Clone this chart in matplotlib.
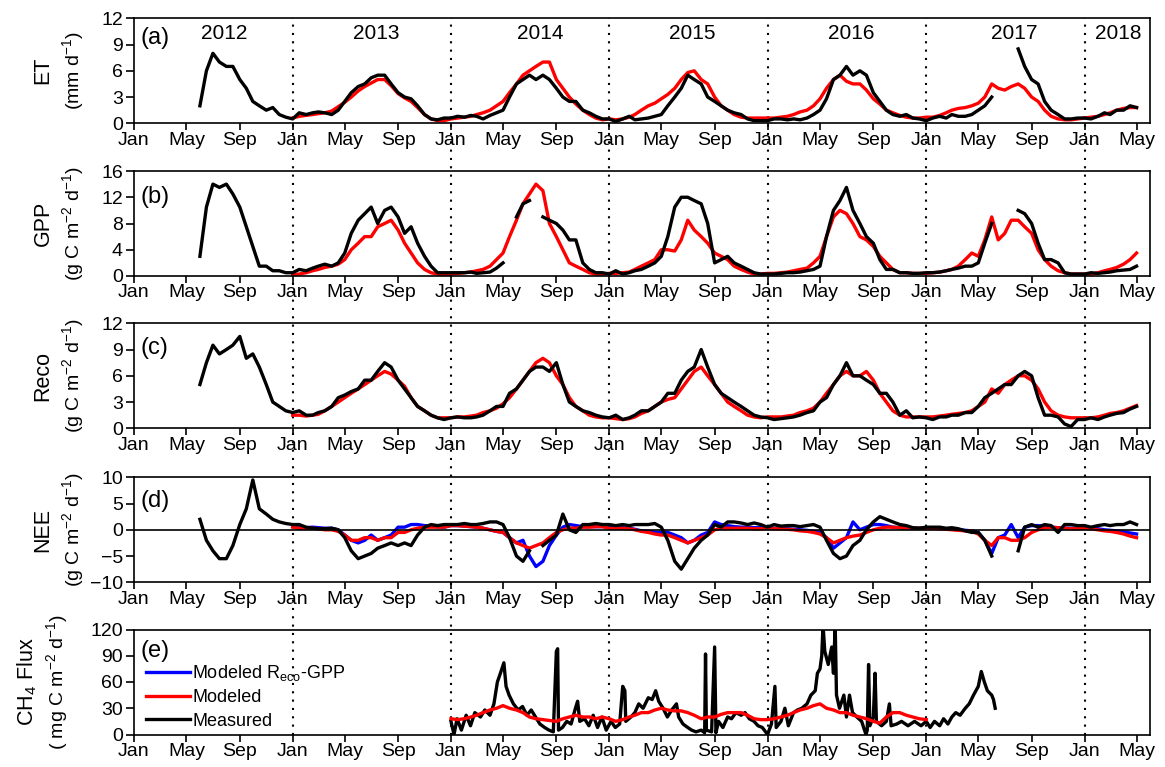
import numpy as np
import pandas as pd
import matplotlib
matplotlib.use("Agg")
import matplotlib.pyplot as plt
import matplotlib.dates as mdates
from matplotlib.lines import Line2D

nan = np.nan

# -----------------------------------------------------------------------------
# Eje de tiempo: valores leídos cada medio mes (día 1 y 16), ene 2012 - may 2018
# -----------------------------------------------------------------------------
grid = [pd.Timestamp(y, m, d) for y in range(2012, 2019) for m in range(1, 13) for d in (1, 16)]
grid = [t for t in grid if t <= pd.Timestamp(2018, 5, 1)]

# Series medidas: empiezan el 1 jun 2012. Series modeladas: empiezan el 1 ene 2013.
# (a) ET, mm d-1
et_meas = [
    2.0, 6.0, 8.0, 7.0, 6.5, 6.5, 5.0, 4.0, 2.5, 2.0, 1.5, 1.8, 1.0, 0.7,
    0.5, 1.2, 1.0, 1.2, 1.3, 1.2, 1.0, 1.5, 2.5, 3.5, 4.2, 4.5, 5.2, 5.5, 5.5, 4.5, 3.5, 3.0, 2.8, 2.0, 1.0, 0.5, 0.4, 0.6,
    0.6, 0.8, 0.7, 0.9, 0.8, 0.5, 0.9, 1.2, 1.5, 3.0, 4.5, 5.0, 5.5, 5.0, 5.5, 5.0, 4.0, 3.0, 2.5, 2.5, 1.5, 1.2, 0.8, 0.5,
    0.5, 0.2, 0.5, 0.8, 0.4, 0.5, 0.6, 0.8, 1.0, 2.0, 3.0, 4.0, 5.5, 5.0, 4.5, 3.0, 2.5, 2.0, 1.5, 1.2, 1.0, 0.5, 0.3, 0.3,
    0.3, 0.5, 0.5, 0.4, 0.5, 0.4, 0.6, 1.0, 1.5, 2.8, 5.0, 5.5, 6.5, 5.5, 6.0, 5.5, 3.5, 2.5, 1.5, 1.0, 0.8, 1.0, 0.6, 0.5,
    0.3, 0.6, 0.8, 0.6, 1.0, 0.8, 0.8, 1.0, 1.5, 2.0, 3.0, nan, nan, nan, 8.5, 6.5, 5.0, 4.5, 2.5, 1.5, 1.0, 0.5, 0.5, 0.6,
    0.6, 0.5, 0.8, 1.2, 1.0, 1.5, 1.5, 2.0, 1.8,
]
et_mod = [
    0.6, 0.8, 0.9, 1.0, 1.1, 1.2, 1.4, 1.9, 2.4, 3.0, 3.7, 4.2, 4.6, 5.0, 5.0, 4.3, 3.4, 2.9, 2.5, 1.8, 1.0, 0.5, 0.3, 0.3,
    0.5, 0.6, 0.7, 0.8, 1.0, 1.2, 1.5, 2.0, 2.5, 3.5, 4.5, 5.5, 6.0, 6.5, 7.0, 7.0, 5.0, 4.0, 3.0, 2.2, 1.5, 1.0, 0.6, 0.4,
    0.5, 0.4, 0.5, 0.7, 1.0, 1.5, 2.0, 2.3, 2.8, 3.3, 4.0, 5.0, 5.8, 6.0, 5.0, 4.5, 3.0, 2.0, 1.5, 1.0, 0.7, 0.6, 0.6, 0.6,
    0.6, 0.6, 0.7, 0.8, 1.0, 1.3, 1.5, 2.0, 2.8, 4.0, 5.0, 5.5, 4.8, 4.5, 4.5, 3.8, 2.8, 2.2, 1.5, 1.2, 0.9, 0.7, 0.6, 0.6,
    0.7, 0.7, 0.9, 1.2, 1.5, 1.7, 1.8, 2.0, 2.3, 3.0, 4.5, 4.0, 3.8, 4.2, 4.5, 4.0, 3.0, 2.5, 1.5, 0.8, 0.5, 0.4, 0.4, 0.5,
    0.6, 0.7, 0.8, 1.0, 1.2, 1.5, 1.7, 1.8, 1.8,
]

# (b) GPP, g C m-2 d-1
gpp_meas = [
    3.0, 10.5, 14.0, 13.5, 14.0, 12.5, 10.5, 7.5, 4.5, 1.5, 1.5, 0.8, 0.8, 0.5,
    0.5, 1.0, 0.8, 1.2, 1.5, 1.8, 1.5, 2.0, 3.5, 6.5, 8.5, 9.5, 10.5, 8.0, 10.0, 10.5, 9.0, 6.5, 7.5, 5.0, 3.0, 1.5, 0.5, 0.5,
    0.5, 0.5, 0.5, 0.6, 0.4, 0.5, 0.6, 1.2, 2.0, nan, 9.0, 11.0, 11.5, nan, 9.0, 8.5, 8.0, 7.0, 5.5, 5.5, 2.0, 1.0, 0.5, 0.5,
    0.3, 0.8, 0.3, 0.5, 0.8, 1.0, 1.5, 2.0, 3.0, 6.0, 10.5, 12.0, 12.0, 11.5, 11.0, 8.0, 2.0, 2.5, 3.0, 2.0, 1.5, 1.0, 0.5, 0.3,
    0.3, 0.3, 0.4, 0.5, 0.5, 0.6, 0.8, 1.0, 1.5, 6.0, 10.0, 11.5, 13.5, 10.0, 8.0, 6.0, 5.0, 2.5, 1.0, 1.0, 0.5, 0.5, 0.4, 0.4,
    0.5, 0.5, 0.6, 0.8, 1.0, 1.2, 1.5, 1.5, 2.0, 5.0, 8.0, nan, nan, nan, 10.0, 9.5, 8.0, 5.0, 2.5, 2.5, 2.0, 0.5, 0.3, 0.3,
    0.3, 0.5, 0.4, 0.5, 0.6, 0.8, 0.9, 1.0, 1.5,
]
gpp_mod = [
    0.2, 0.3, 0.5, 0.8, 1.0, 1.3, 1.5, 1.8, 2.5, 4.0, 5.0, 6.0, 6.0, 7.5, 8.0, 8.5, 7.0, 5.0, 3.5, 2.0, 1.0, 0.5, 0.3, 0.2,
    0.3, 0.4, 0.5, 0.6, 0.8, 1.0, 1.5, 2.5, 3.5, 6.0, 8.5, 11.0, 12.5, 14.0, 13.0, 8.0, 6.0, 4.0, 2.0, 1.5, 1.0, 0.5, 0.3, 0.3,
    0.4, 0.4, 0.5, 0.6, 1.0, 1.5, 2.0, 2.5, 4.0, 4.0, 3.8, 5.5, 8.5, 7.0, 6.0, 5.0, 3.5, 3.0, 2.5, 1.5, 1.0, 0.6, 0.3, 0.3,
    0.4, 0.4, 0.5, 0.6, 0.8, 1.0, 1.2, 2.0, 3.0, 6.0, 9.0, 10.0, 9.5, 8.0, 6.0, 5.5, 4.5, 3.0, 2.0, 1.0, 0.5, 0.5, 0.4, 0.4,
    0.4, 0.5, 0.6, 0.8, 1.0, 1.5, 2.5, 3.5, 3.0, 5.5, 9.0, 5.5, 6.5, 8.5, 8.5, 7.5, 6.5, 4.0, 2.5, 1.5, 0.8, 0.5, 0.3, 0.3,
    0.3, 0.3, 0.5, 0.8, 1.0, 1.3, 1.8, 2.5, 3.5,
]

# (c) Reco, g C m-2 d-1
reco_meas = [
    5.0, 7.5, 9.5, 8.5, 9.0, 9.5, 10.5, 8.0, 8.5, 7.0, 5.0, 3.0, 2.5, 2.0,
    1.8, 2.0, 1.5, 1.5, 1.8, 2.0, 2.5, 3.5, 3.8, 4.2, 4.5, 5.5, 5.5, 6.5, 7.5, 7.0, 5.5, 4.5, 3.5, 2.5, 2.0, 1.5, 1.2, 1.0,
    1.2, 1.3, 1.2, 1.2, 1.3, 1.5, 2.0, 2.5, 2.5, 4.0, 4.5, 5.5, 6.5, 7.0, 7.0, 6.5, 7.5, 5.0, 3.0, 2.5, 2.0, 1.8, 1.5, 1.3,
    1.2, 1.5, 1.0, 1.2, 1.5, 2.0, 2.0, 2.5, 3.0, 4.0, 4.0, 5.5, 6.5, 7.0, 9.0, 7.0, 5.0, 4.0, 3.5, 3.0, 2.5, 2.0, 1.5, 1.3,
    1.2, 1.0, 1.1, 1.2, 1.3, 1.5, 1.8, 2.0, 3.0, 3.5, 5.0, 6.0, 7.5, 6.0, 6.0, 5.5, 5.0, 4.0, 4.0, 3.0, 1.5, 2.0, 1.2, 1.3,
    1.2, 1.0, 1.3, 1.3, 1.5, 1.5, 1.8, 1.8, 2.5, 3.5, 4.0, 4.5, 5.0, 5.0, 6.0, 6.5, 6.0, 3.5, 1.5, 1.5, 1.3, 0.5, 0.2, 1.0,
    1.0, 1.2, 1.0, 1.3, 1.5, 1.7, 1.8, 2.2, 2.5,
]
reco_mod = [
    1.5, 1.5, 1.4, 1.5, 1.6, 2.0, 2.5, 3.0, 3.5, 4.0, 4.5, 5.0, 5.5, 6.0, 6.5, 6.2, 5.5, 4.8, 3.5, 2.5, 2.0, 1.5, 1.2, 1.2,
    1.2, 1.3, 1.3, 1.4, 1.5, 1.8, 2.0, 2.3, 2.8, 3.5, 4.5, 5.5, 6.5, 7.5, 8.0, 7.5, 6.0, 5.0, 3.5, 2.5, 2.0, 1.5, 1.3, 1.2,
    1.2, 1.1, 1.0, 1.1, 1.3, 1.7, 2.0, 2.5, 3.0, 3.3, 3.5, 4.5, 5.5, 6.5, 7.0, 6.0, 5.0, 4.0, 3.0, 2.5, 2.0, 1.5, 1.3, 1.2,
    1.3, 1.3, 1.3, 1.4, 1.5, 1.8, 2.0, 2.3, 3.0, 4.0, 5.0, 6.0, 6.5, 6.0, 6.0, 6.5, 5.5, 4.0, 3.0, 2.0, 1.5, 1.3, 1.3, 1.3,
    1.3, 1.3, 1.4, 1.5, 1.6, 1.7, 1.8, 2.0, 2.5, 3.0, 4.5, 4.0, 5.0, 5.5, 6.0, 6.0, 5.5, 4.5, 3.0, 2.0, 1.5, 1.3, 1.2, 1.2,
    1.2, 1.2, 1.3, 1.5, 1.7, 1.8, 2.0, 2.3, 2.6,
]

# (d) NEE, g C m-2 d-1
nee_meas = [
    2.0, -2.0, -4.0, -5.5, -5.5, -3.0, 1.0, 4.0, 9.5, 4.0, 3.0, 2.0, 1.5, 1.2,
    1.0, 1.0, 0.5, 0.3, 0.2, 0.2, 0.3, 0.0, -1.5, -4.0, -5.5, -5.0, -4.5, -3.5, -3.0, -2.5, -3.0, -2.5, -3.0, -1.0, 0.5, 1.0, 0.8, 1.0,
    1.0, 1.0, 1.2, 1.0, 1.0, 1.2, 1.5, 1.5, 1.0, -1.5, -5.0, -6.0, -4.0, nan, -3.0, -2.0, -1.0, 3.0, 0.0, -0.5, 1.0, 1.0, 1.2, 1.0,
    1.0, 0.8, 1.0, 0.8, 1.0, 1.0, 1.0, 1.2, 0.5, -2.0, -6.0, -7.5, -5.5, -3.5, -2.0, -1.0, 1.0, 0.5, 1.5, 1.5, 1.3, 1.0, 1.3, 1.0,
    0.5, 1.0, 0.7, 0.8, 0.8, 0.6, 0.8, 1.0, 0.5, -2.0, -4.5, -5.5, -5.0, -3.0, -2.0, 0.0, 1.5, 2.5, 2.0, 1.5, 1.0, 0.8, 0.4, 0.3,
    0.5, 0.5, 0.5, 0.3, 0.4, 0.2, -0.2, -0.5, -0.5, -2.0, -5.0, nan, nan, nan, -4.0, 0.5, 1.0, 0.5, 1.0, 0.8, -0.5, 1.0, 1.0, 0.8,
    0.8, 0.5, 0.8, 1.0, 0.8, 1.0, 1.0, 1.5, 1.0,
]
nee_mod = [
    0.5, 0.3, 0.3, 0.3, 0.2, 0.0, 0.0, -0.3, -1.0, -2.0, -2.0, -1.5, -1.5, -2.0, -1.5, -1.5, -0.5, -0.5, 0.0, 0.3, 0.5, 0.5, 0.5, 0.5,
    0.8, 0.8, 0.7, 0.6, 0.5, 0.3, 0.0, -0.3, -0.5, -1.5, -2.5, -3.0, -3.5, -3.0, -2.5, -1.5, -0.5, 0.0, 0.3, 0.3, 0.5, 0.5, 0.6, 0.6,
    0.3, 0.3, 0.3, 0.2, 0.0, -0.3, -0.5, -0.8, -1.0, -1.0, -1.5, -2.0, -2.5, -2.0, -1.5, -1.0, 0.0, 0.3, 0.3, 0.3, 0.3, 0.3, 0.2, 0.2,
    0.3, 0.2, 0.2, 0.1, 0.0, -0.2, -0.3, -0.5, -0.8, -1.5, -2.5, -2.0, -1.5, -1.2, -1.0, -0.5, 0.0, 0.3, 0.5, 0.5, 0.4, 0.3, 0.3, 0.3,
    0.3, 0.3, 0.2, 0.1, 0.0, -0.1, -0.2, -0.3, -0.8, -2.0, -3.0, -1.5, -1.5, -2.0, -2.0, -1.5, -0.5, 0.0, 0.3, 0.5, 0.4, 0.3, 0.2, 0.2,
    0.3, 0.2, 0.0, -0.2, -0.3, -0.5, -0.8, -1.2, -1.5,
]
nee_reco_gpp = [
    0.6, 0.4, 0.4, 0.5, 0.4, 0.3, 0.3, 0.0, -1.0, -2.0, -2.5, -2.0, -1.0, -2.0, -1.5, -1.0, 0.5, 0.5, 1.0, 1.0, 0.8, 0.7, 0.6, 0.5,
    0.8, 0.8, 0.7, 0.6, 0.5, 0.3, 0.0, -0.3, -0.5, -1.5, -2.5, -2.0, -5.0, -7.0, -6.0, -3.0, -1.0, 0.5, 1.0, 0.8, 0.6, 0.6, 0.6, 0.6,
    0.5, 0.5, 0.4, 0.3, 0.1, -0.2, -0.3, -0.5, -0.5, -0.5, -1.0, -1.5, -2.5, -2.0, -1.0, -0.5, 1.5, 1.0, 0.8, 0.6, 0.5, 0.5, 0.4, 0.4,
    0.4, 0.3, 0.3, 0.2, 0.1, 0.0, -0.1, -0.3, -0.5, -1.5, -3.5, -2.5, -1.5, 1.5, 0.0, 0.5, 1.0, 1.0, 0.8, 0.5, 0.4, 0.3, 0.3, 0.3,
    0.4, 0.3, 0.3, 0.2, 0.1, 0.0, -0.1, -0.2, -0.5, -2.0, -4.5, -1.5, -1.0, 1.0, -1.5, 0.5, 0.8, 0.8, 0.6, 0.5, 0.4, 0.3, 0.3, 0.3,
    0.3, 0.3, 0.2, 0.0, -0.1, -0.2, -0.4, -0.6, -0.8,
]

# (e) CH4, mg C m-2 d-1 (modelado: 1 ene 2014 - 1 ene 2017)
ch4_mod = [
    18, 17, 18, 20, 22, 25, 28, 30, 33, 30, 28, 25, 20, 18, 17, 16, 15, 18, 20, 22, 20, 20, 18, 20,
    18, 15, 17, 20, 22, 25, 25, 28, 30, 28, 27, 27, 25, 22, 18, 20, 20, 23, 25, 25, 25, 22, 18, 17,
    17, 18, 20, 22, 25, 28, 30, 33, 35, 30, 28, 25, 25, 22, 20, 18, 15, 13, 20, 25, 25, 22, 20, 18,
    17,
]
ch4_meas_dates = [
    "2014-01-01", "2014-01-08", "2014-01-15", "2014-01-25", "2014-02-05", "2014-02-15", "2014-02-25",
    "2014-03-10", "2014-03-20", "2014-04-01", "2014-04-10", "2014-04-18", "2014-04-25", "2014-05-03",
    "2014-05-08", "2014-05-15", "2014-05-25", "2014-06-05", "2014-06-15", "2014-06-25", "2014-07-05",
    "2014-07-15", "2014-07-25", "2014-08-05", "2014-08-15", "2014-08-25", "2014-09-01", "2014-09-04",
    "2014-09-06", "2014-09-15", "2014-09-25", "2014-10-05", "2014-10-15", "2014-10-20", "2014-10-25",
    "2014-11-05", "2014-11-15", "2014-11-25", "2014-12-05", "2014-12-15", "2014-12-25",
    "2015-01-05", "2015-01-15", "2015-01-25", "2015-02-01", "2015-02-06", "2015-02-08", "2015-02-20",
    "2015-03-01", "2015-03-10", "2015-03-20", "2015-04-01", "2015-04-10", "2015-04-18", "2015-04-25",
    "2015-05-05", "2015-05-15", "2015-05-25", "2015-06-05", "2015-06-10", "2015-06-20", "2015-07-01",
    "2015-07-10", "2015-07-20", "2015-08-01", "2015-08-09", "2015-08-11", "2015-08-13", "2015-08-25",
    "2015-09-01", "2015-09-04", "2015-09-10", "2015-09-20", "2015-10-01", "2015-10-10", "2015-10-20",
    "2015-11-01", "2015-11-10", "2015-11-20", "2015-12-01", "2015-12-10", "2015-12-20",
    "2016-01-01", "2016-01-10", "2016-01-18", "2016-01-21", "2016-02-01", "2016-02-10", "2016-02-18",
    "2016-03-01", "2016-03-10", "2016-03-20", "2016-04-01", "2016-04-10", "2016-04-20", "2016-04-25",
    "2016-05-01", "2016-05-05", "2016-05-08", "2016-05-12", "2016-05-20", "2016-05-28", "2016-06-01",
    "2016-06-05", "2016-06-08", "2016-06-15", "2016-06-25", "2016-07-01", "2016-07-08", "2016-07-15",
    "2016-07-25", "2016-08-05", "2016-08-15", "2016-08-18", "2016-08-21", "2016-08-24", "2016-09-01",
    "2016-09-05", "2016-09-08", "2016-09-20", "2016-10-01", "2016-10-08", "2016-10-12", "2016-10-25",
    "2016-11-05", "2016-11-20", "2016-12-05", "2016-12-20",
    "2017-01-01", "2017-01-10", "2017-01-20", "2017-02-01", "2017-02-10", "2017-02-20", "2017-03-01",
    "2017-03-10", "2017-03-20", "2017-04-01", "2017-04-10", "2017-04-20", "2017-05-01", "2017-05-08",
    "2017-05-15", "2017-05-22", "2017-06-01", "2017-06-05", "2017-06-09",
]
ch4_meas = [
    15, 0, 18, 5, 22, 10, 25,
    20, 28, 22, 35, 60, 70, 82,
    55, 45, 35, 28, 32, 22, 28,
    20, 12, 8, 5, 3, 95, 98,
    5, 8, 15, 12, 30, 38, 15,
    18, 10, 22, 8, 20, 5,
    15, 8, 12, 55, 50, 15, 20,
    25, 35, 30, 42, 40, 50, 38,
    30, 20, 28, 35, 20, 12, 8,
    5, 3, 5, 2, 92, 5, 3,
    100, 2, 15, 8, 20, 18, 25,
    22, 25, 18, 15, 10, 8,
    0, 12, 55, 8, 15, 30, 10,
    25, 28, 30, 35, 45, 50, 70,
    75, 90, 125, 95, 80, 100, 70,
    125, 45, 30, 45, 20, 45, 25,
    20, 15, 0, 5, 80, 10, 20,
    70, 15, 10, 15, 35, 10, 12,
    15, 10, 15, 10,
    15, 8, 15, 10, 18, 12, 20,
    25, 22, 30, 35, 45, 55, 72,
    60, 50, 45, 40, 30,
]

ylims = [(0, 12), (0, 16), (0, 12), (-10, 10), (0, 120)]
yticks = [[0, 3, 6, 9, 12], [0, 4, 8, 12, 16], [0, 3, 6, 9, 12], [-10, -5, 0, 5, 10], [0, 30, 60, 90, 120]]
ylab1 = ["ET", "GPP", "Reco", "NEE", "CH$_4$ Flux"]
ylab2 = ["(mm d$^{-1}$)", "(g C m$^{-2}$ d$^{-1}$)", "(g C m$^{-2}$ d$^{-1}$)",
         "(g C m$^{-2}$ d$^{-1}$)", "( mg C m$^{-2}$ d$^{-1}$)"]
panel_tags = ["(a)", "(b)", "(c)", "(d)", "(e)"]
years = ["2012", "2013", "2014", "2015", "2016", "2017", "2018"]
year_pos = ["2012-07-26", "2013-07-12", "2014-07-26", "2015-07-12", "2016-07-13", "2017-07-22", "2018-03-19"]

# -----------------------------------------------------------------------------
plt.rcParams["font.family"] = ["Liberation Sans", "DejaVu Sans"]
plt.rcParams["mathtext.default"] = "regular"

W, H = 1165, 767
fig = plt.figure(figsize=(W / 100, H / 100), dpi=100)
left, width, height = 134 / W, 1016 / W, 105 / H
bottom_px = [123.3, 276.0, 428.3, 582.3, 734.5]
axes = [fig.add_axes([left, 1 - b / H, width, height]) for b in bottom_px]

def tail(vals):
    return grid[-len(vals):]

lw = 2.4
a, b, c, d, e = axes
a.plot(tail(et_mod), et_mod, color="red", lw=lw)
a.plot(tail(et_meas), et_meas, color="black", lw=lw)
b.plot(tail(gpp_mod), gpp_mod, color="red", lw=lw)
b.plot(tail(gpp_meas), gpp_meas, color="black", lw=lw)
c.plot(tail(reco_mod), reco_mod, color="red", lw=lw)
c.plot(tail(reco_meas), reco_meas, color="black", lw=lw)
d.plot(tail(nee_reco_gpp), nee_reco_gpp, color="blue", lw=lw)
d.plot(tail(nee_mod), nee_mod, color="red", lw=lw)
d.plot(tail(nee_meas), nee_meas, color="black", lw=lw)
d.axhline(0, color="black", lw=1.2, zorder=5)
e.plot(pd.to_datetime(ch4_meas_dates), ch4_meas, color="black", lw=lw)
e.plot(grid[48:48 + len(ch4_mod)], ch4_mod, color="red", lw=lw)

# Leyenda del panel (e)
handles = [Line2D([], [], color="blue", lw=2.4), Line2D([], [], color="red", lw=2.4),
           Line2D([], [], color="black", lw=2.4)]
e.legend(handles, ["Modeled R$_{eco}$-GPP", "Modeled", "Measured"], loc="upper left",
         bbox_to_anchor=(0.012, 0.68), frameon=False, fontsize=13, handlelength=2.4,
         handletextpad=0.15, labelspacing=0.35, borderpad=0, borderaxespad=0)

x_lo, x_hi = pd.Timestamp(2012, 1, 1), pd.Timestamp(2018, 6, 1)
tag_y = [0.817, 0.755, 0.767, 0.776, 0.80]
for i, ax in enumerate(axes):
    ax.set_xlim(x_lo, x_hi)
    ax.set_ylim(*ylims[i])
    ax.set_yticks(yticks[i])
    ax.xaxis.set_major_locator(mdates.MonthLocator(bymonth=[1, 5, 9]))
    ax.xaxis.set_major_formatter(mdates.DateFormatter("%b"))
    ax.tick_params(axis="both", direction="out", labelsize=14, width=1.2, top=False, right=False)
    ax.tick_params(axis="x", length=5, pad=1)
    ax.tick_params(axis="y", length=6, pad=2)
    for s in ax.spines.values():
        s.set_linewidth(1.2)
    ax.set_facecolor("none")
    ax.text(0.006, tag_y[i], panel_tags[i], transform=ax.transAxes, fontsize=17, ha="left", va="center")
    yc = 1 - (bottom_px[i] - 52.5) / H
    x1 = 27 if i == 4 else 43
    x2 = 57.5 if i == 4 else 73
    fig.text(x1 / W, yc, ylab1[i], rotation=90, ha="center", va="center", fontsize=15.5)
    fig.text(x2 / W, yc, ylab2[i], rotation=90, ha="center", va="center", fontsize=14)

for yr, pos in zip(years, year_pos):
    a.text(pd.Timestamp(pos), 0.855, yr, transform=a.get_xaxis_transform(), ha="center", va="center", fontsize=15)

# Líneas punteadas de cada 1 de enero, cruzando todos los paneles
y_top = 1 - 18.3 / H
y_bot = 1 - 734.5 / H
for yr in range(2013, 2019):
    xd = a.transData.transform((mdates.date2num(pd.Timestamp(yr, 1, 1)), 0))[0]
    xf = fig.transFigure.inverted().transform((xd, 0))[0]
    fig.add_artist(Line2D([xf, xf], [y_bot, y_top], transform=fig.transFigure, color="black",
                          lw=1.5, linestyle=(0, (1, 3)), zorder=-1))

fig.savefig("out.png", dpi=100)
